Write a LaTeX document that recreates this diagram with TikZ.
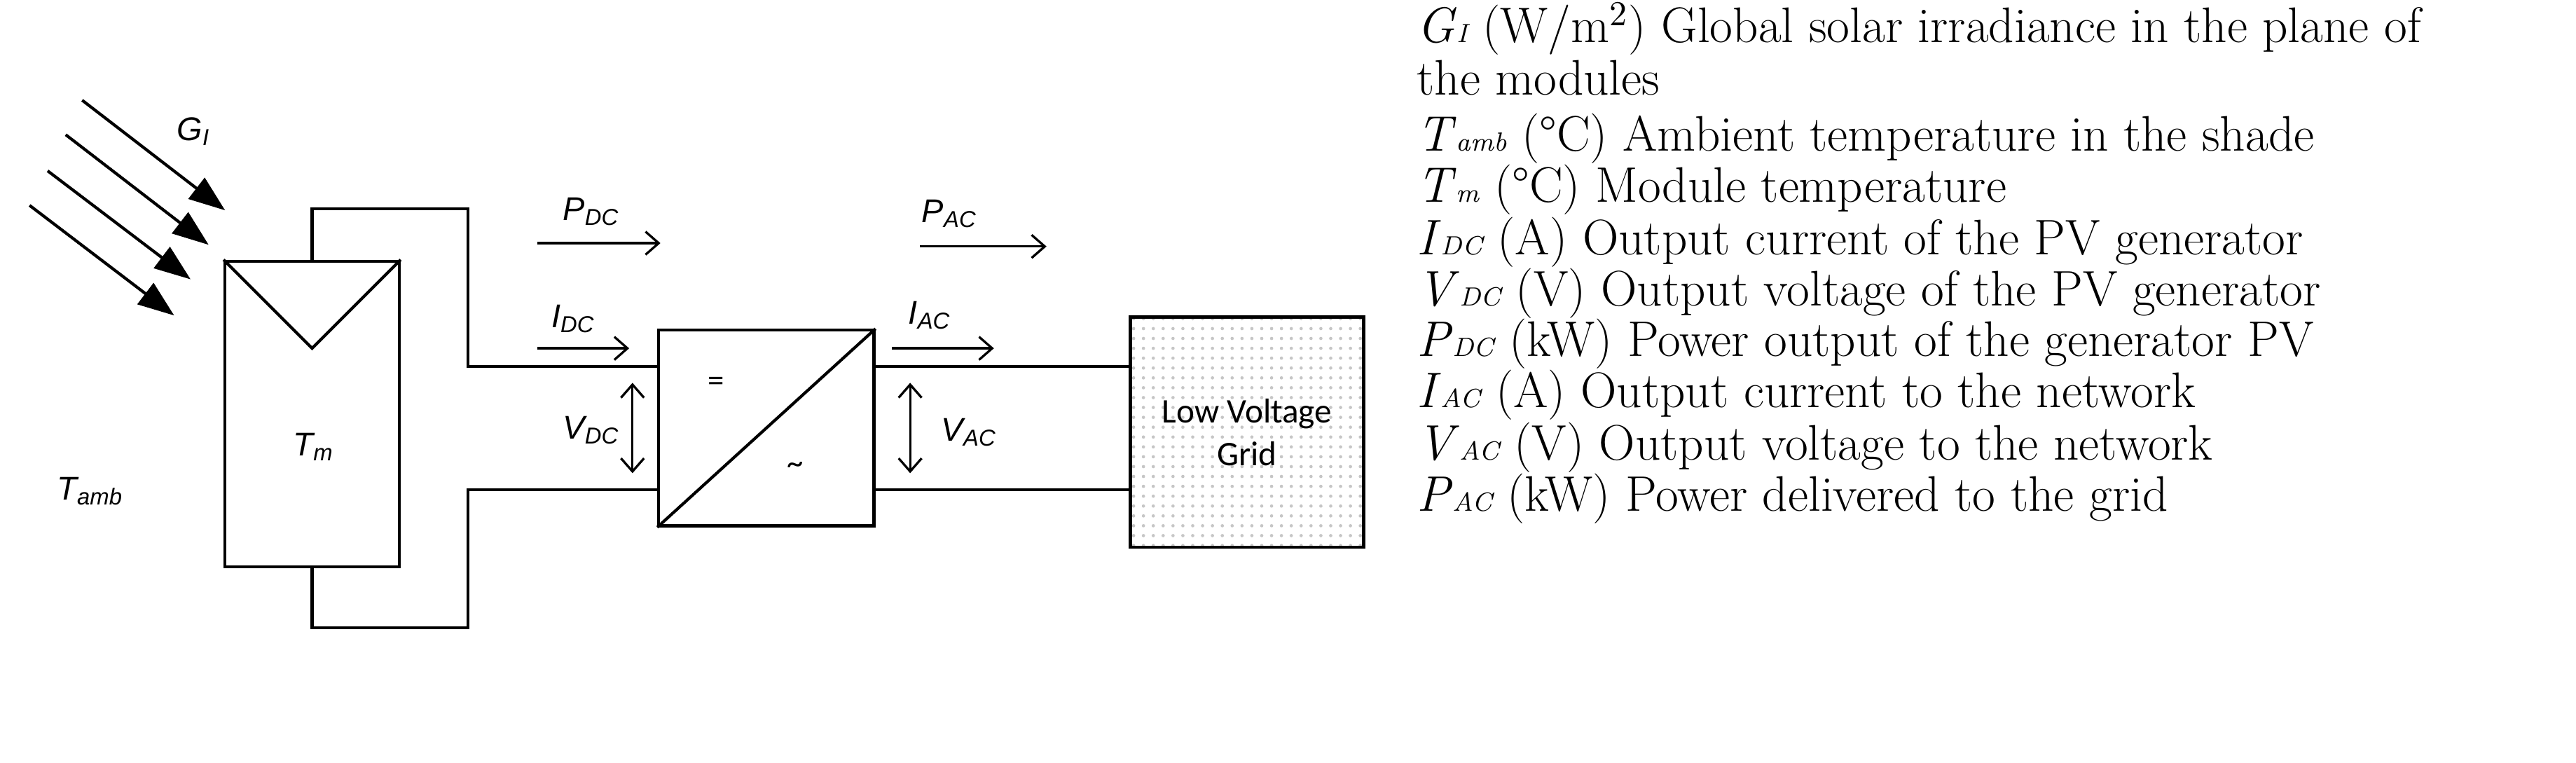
\documentclass[tikz,border=0pt]{standalone}
\usepackage{fontspec}
\newfontfamily\lsans{Liberation Sans}
\newfontfamily\carl{Carlito}
\usetikzlibrary{arrows.meta,patterns}
\newcommand{\smsub}[1]{{\footnotesize\itshape #1}}
\begin{document}
\begin{tikzpicture}[x=0.5pt,y=-0.5pt,
  wire/.style={line width=0.9pt},
  sun/.style={line width=0.9pt,-{Triangle[length=11pt,width=8pt]}},
  flow/.style={line width=0.7pt,-{Straight Barb[length=4pt,width=7pt]}},
  volt/.style={line width=0.7pt,{Straight Barb[length=4pt,width=7pt]}-{Straight Barb[length=4pt,width=7pt]}},
  lab/.style={font=\lsans\itshape\fontsize{10}{12}\selectfont},
  desc/.style={anchor=base west,inner sep=0pt,font=\fontsize{15.2}{17}\selectfont}]
\useasboundingbox (0,0) rectangle (1568,464);
% PV panel
\node[draw,wire,minimum width=53pt,minimum height=93pt,inner sep=0pt] (pv) at (190,252) {};
\coordinate (apex) at (190,212);
\draw[wire] (pv.north west) -- (apex) -- (pv.north east);
\node[lab] (tm) at (191,272) {T\textsubscript{m}};
% converter
\node[draw,wire,minimum width=65.5pt,minimum height=59.5pt,inner sep=0pt] (conv) at (466.5,260.5) {};
\draw[wire] (conv.south west) -- (conv.north east);
\node[font=\carl\fontsize{10}{12}\selectfont] (eq) at (436,234) {=};
\node[font=\carl\fontsize{10}{12}\selectfont] (tl) at (484,285) {\textasciitilde};
% grid
\node[draw,wire,pattern=dots,pattern color=gray!45,minimum width=71pt,minimum height=70pt,inner sep=0pt] (grid) at (759,263) {};
\node[font=\carl\fontsize{10.5}{13}\selectfont,align=center] (gtxt) at (759,263) {Low Voltage\\Grid};
% wires
\coordinate (c1) at (190,127); \coordinate (c2) at (285,127); \coordinate (c3) at (285,223);
\coordinate (c4) at (190,382); \coordinate (c5) at (285,382); \coordinate (c6) at (285,298);
\draw[wire] (pv.north) -- (c1) -- (c2) -- (c3) -- (conv.west |- c3);
\draw[wire] (pv.south) -- (c4) -- (c5) -- (c6) -- (conv.west |- c6);
\draw[wire] (conv.east |- c3) -- (grid.west |- c3);
\draw[wire] (conv.east |- c6) -- (grid.west |- c6);
% sun arrows
\foreach \i/\a/\b/\c/\d in {1/50/61/137/128,2/40/82/127/149,3/29/104/116/170,4/18/125/106/192}{
  \coordinate (s\i) at (\a,\b); \coordinate (e\i) at (\c,\d);
  \draw[sun] (s\i) -- (e\i);}
\node[lab] (gi) at (118,80) {G\textsubscript{I}};
\node[lab] (tamb) at (55,299) {T\textsubscript{amb}};
% DC quantities
\coordinate (pd1) at (327,148); \coordinate (pd2) at (402,148);
\draw[flow] (pd1) -- (pd2);
\node[lab] (pdc) at (360,129) {P\textsubscript{DC}};
\coordinate (id1) at (327,212); \coordinate (id2) at (383,212);
\draw[flow] (id1) -- (id2);
\node[lab] (idc) at (349,194) {I\textsubscript{DC}};
\coordinate (vd1) at (385,233); \coordinate (vd2) at (385,288);
\draw[volt] (vd1) -- (vd2);
\node[lab] (vdc) at (360,262) {V\textsubscript{DC}};
% AC quantities
\coordinate (pa1) at (560,150); \coordinate (pa2) at (637,150);
\draw[flow] (pa1) -- (pa2);
\node[lab] (pac) at (578,130) {P\textsubscript{AC}};
\coordinate (ia1) at (543,212); \coordinate (ia2) at (605,212);
\draw[flow] (ia1) -- (ia2);
\node[lab] (iac) at (566,192) {I\textsubscript{AC}};
\coordinate (va1) at (554,233); \coordinate (va2) at (554,288);
\draw[volt] (va1) -- (va2);
\node[lab] (vac) at (590,263) {V\textsubscript{AC}};
% descriptions
\node[desc] (d1) at (862,26) {\textit{G}\smsub{I} (W/m\textsuperscript{2}) Global solar irradiance in the plane of};
\node[desc] (d2) at (862,58) {the modules};
\node[desc] (d3) at (862,92) {\textit{T}\smsub{amb} (°C) Ambient temperature in the shade};
\node[desc] (d4) at (862,123) {\textit{T}\smsub{m} (°C) Module temperature};
\node[desc] (d5) at (862,155) {\textit{I}\smsub{DC} (A) Output current of the PV generator};
\node[desc] (d6) at (862,186) {\textit{V}\smsub{DC} (V) Output voltage of the PV generator};
\node[desc] (d7) at (862,217) {\textit{P}\smsub{DC} (kW) Power output of the generator PV};
\node[desc] (d8) at (862,248) {\textit{I}\smsub{AC} (A) Output current to the network};
\node[desc] (d9) at (862,280) {\textit{V}\smsub{AC} (V) Output voltage to the network};
\node[desc] (d10) at (862,311) {\textit{P}\smsub{AC} (kW) Power delivered to the grid};
\end{tikzpicture}
\end{document}
